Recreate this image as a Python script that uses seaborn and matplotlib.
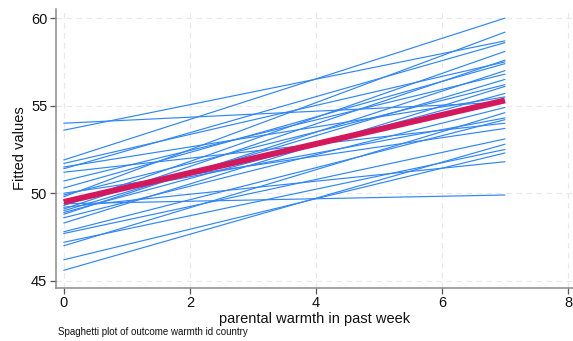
import numpy as np
import pandas as pd
import matplotlib
matplotlib.use("Agg")
import matplotlib.pyplot as plt
import seaborn as sns

# Fitted values per country at warmth = 0 and warmth = 7
x_start = 0
x_end = 7
start_vals = [54.0, 53.6, 51.9, 51.7, 51.5, 51.4, 51.2, 50.7, 50.3, 50.0,
              49.9, 49.8, 49.6, 49.4, 49.3, 49.1, 49.0, 48.9, 48.8, 48.6,
              48.3, 47.8, 47.7, 47.2, 47.0, 46.2, 45.6, 49.2]
end_vals = [55.2, 58.7, 60.0, 57.5, 55.5, 58.6, 54.0, 56.8, 57.4, 53.7,
            56.2, 59.2, 54.3, 49.9, 58.1, 57.6, 56.5, 55.7, 57.0, 54.9,
            56.1, 54.2, 53.1, 52.5, 54.6, 52.3, 52.8, 51.8]
mean_start = 49.5
mean_end = 55.3

xticks = [0, 2, 4, 6, 8]
yticks = [45, 50, 55, 60]

rows = []
for i, (s, e) in enumerate(zip(start_vals, end_vals)):
    rows.append({"id": i, "warmth": x_start, "fitted": s})
    rows.append({"id": i, "warmth": x_end, "fitted": e})
df = pd.DataFrame(rows)
mean_df = pd.DataFrame({"warmth": [x_start, x_end], "fitted": [mean_start, mean_end]})

sns.set_theme(style="white")
plt.rcParams["font.family"] = ["Liberation Sans", "DejaVu Sans"]

fig = plt.figure(figsize=(5.73, 3.41), dpi=100)
ax = fig.add_axes([0.097, 0.156, 0.903, 0.817])

sns.lineplot(data=df, x="warmth", y="fitted", units="id", estimator=None,
             color="#2f86f6", linewidth=0.85, ax=ax, legend=False)
sns.lineplot(data=mean_df, x="warmth", y="fitted", color="#d4185c",
             linewidth=4.3, ax=ax, legend=False, solid_capstyle="butt")

ax.set_xlim(-0.13, 8.08)
ax.set_ylim(44.6, 60.51)
ax.set_xticks(xticks)
ax.set_yticks(yticks)
ax.grid(True, color="#e8e8e8", linestyle=(0, (5, 4)), linewidth=0.8)
ax.set_axisbelow(True)

for side in ["top", "right"]:
    ax.spines[side].set_visible(False)
for side in ["left", "bottom"]:
    ax.spines[side].set_color("#8a8a8a")
    ax.spines[side].set_linewidth(1.1)

ax.tick_params(axis="both", which="both", direction="out", length=4,
               width=0.9, color="#555555", labelsize=10.5, labelcolor="#111111",
               left=True, bottom=True, pad=2)

ax.set_xlabel("parental warmth in past week", fontsize=10.5, color="#111111", labelpad=1)
ax.set_ylabel("Fitted values", fontsize=10.5, color="#111111", labelpad=3)

fig.text(0.101, 0.026, "Spaghetti plot of outcome warmth id country",
         fontsize=7, color="#111111", ha="left", va="center")

fig.savefig("out.png", dpi=100)
